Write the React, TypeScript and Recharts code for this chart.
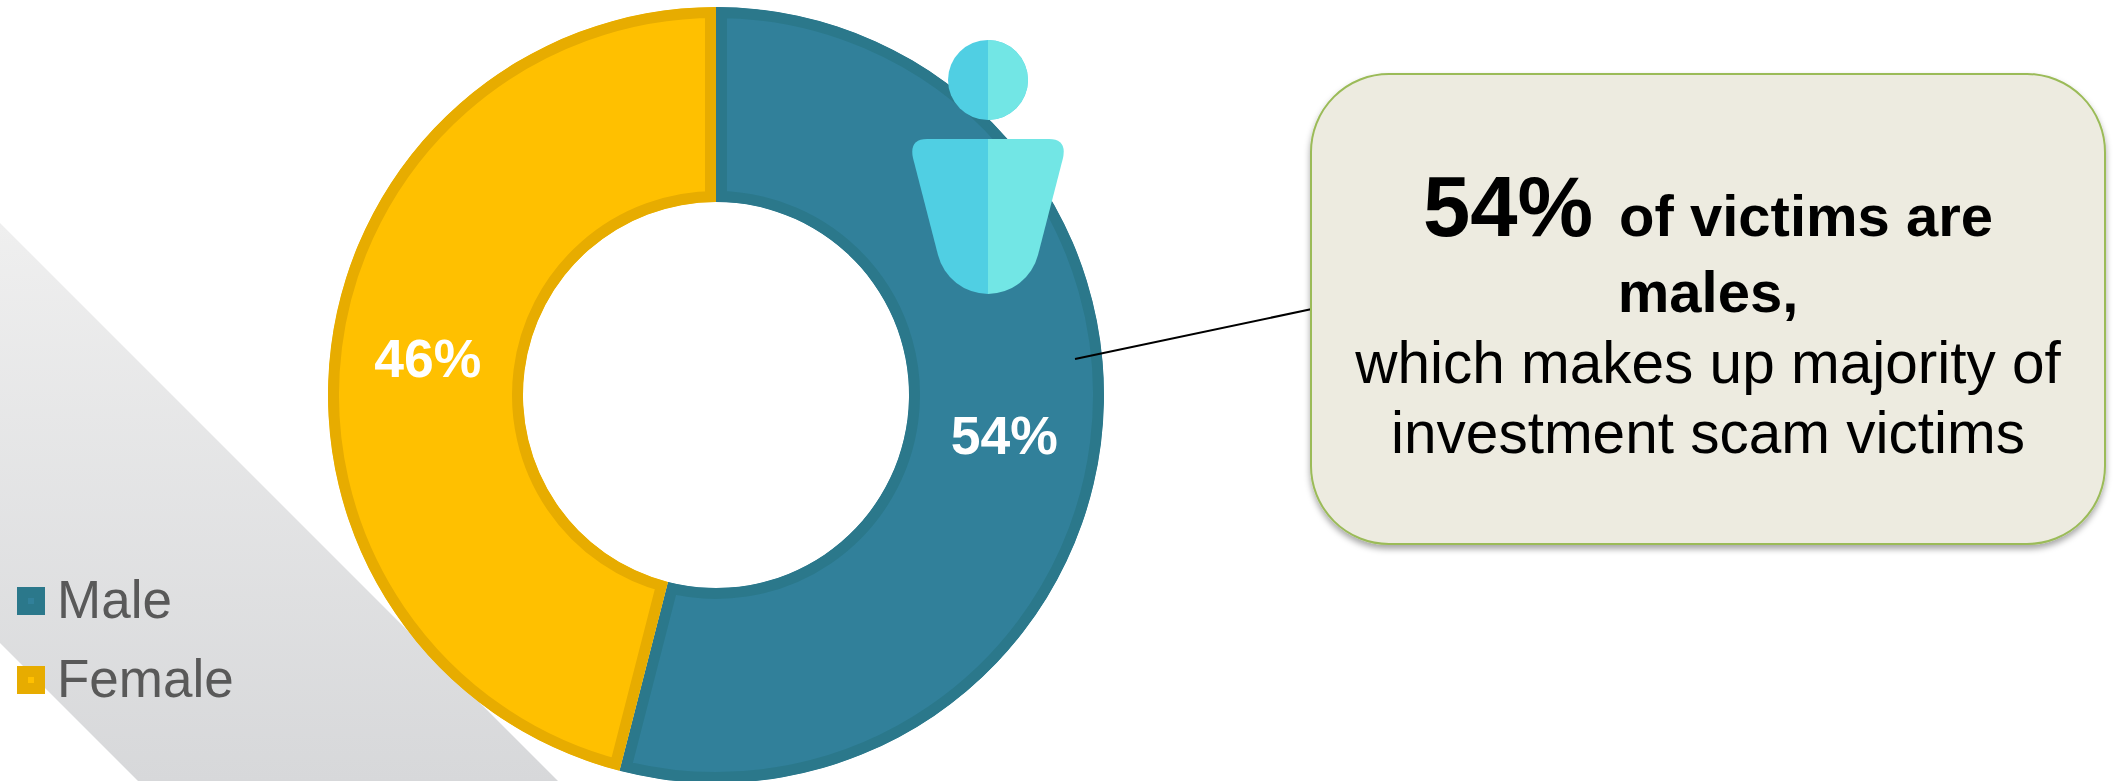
import React from 'react';
import { PieChart, Pie, Cell, Sector, Legend } from 'recharts';

const genders = ['Male', 'Female'];
const shares = [54, 46];
const fills = ['#31809a', '#ffc000'];
const edges = ['#2b788b', '#e7ac00'];
const labelNudge = [4, 0];

const headline = ['of victims are', 'males,'];
const detail = ['which makes up majority of', 'investment scam victims'];

const sliceData = genders.map((name, i) => ({ name, value: shares[i] }));

const FONT = '"Liberation Sans", Arial, sans-serif';
const RAD = Math.PI / 180;

// stroke is twice the border width and clipped to the slice, so the border sits inside it
function InsetSlice(props: any) {
  const id = `slice-clip-${props.index}`;
  const { cx, cy, innerRadius, outerRadius, startAngle, endAngle, fill } = props;
  const geo = { cx, cy, innerRadius, outerRadius, startAngle, endAngle };
  return (
    <g>
      <clipPath id={id}>
        <Sector {...geo} />
      </clipPath>
      <Sector {...geo} fill={fill} stroke={edges[props.index]} strokeWidth={22} clipPath={`url(#${id})`} />
    </g>
  );
}

function sliceLabel({ cx, cy, midAngle, innerRadius, outerRadius, value, index }: any) {
  const r = (innerRadius + outerRadius) / 2;
  return (
    <text
      x={cx + r * Math.cos(-midAngle * RAD)}
      y={cy + r * Math.sin(-midAngle * RAD) + labelNudge[index]}
      fill="#ffffff"
      fontSize={53.5}
      fontWeight="bold"
      fontFamily={FONT}
      textAnchor="middle"
      dominantBaseline="central"
    >
      {`${value}%`}
    </text>
  );
}

function GenderLegend() {
  return (
    <div style={{ fontFamily: FONT }}>
      {genders.map((name, i) => (
        <div key={name} style={{ position: 'relative', height: 79 }}>
          <div
            style={{
              position: 'absolute',
              left: 17,
              top: 12,
              width: 28,
              height: 28,
              background: edges[i],
            }}
          >
            <div style={{ position: 'absolute', left: 11, top: 11, width: 6, height: 6, background: fills[i] }} />
          </div>
          <span style={{ position: 'absolute', left: 57, top: -1, fontSize: 53, lineHeight: '52px', color: '#595959' }}>
            {name}
          </span>
        </div>
      ))}
    </div>
  );
}

export default function App() {
  return (
    <div style={{ position: 'absolute', left: 0, top: 0, width: 2121, height: 781, overflow: 'hidden', background: '#fff' }}>
      <svg width={2121} height={781} style={{ position: 'absolute', left: 0, top: 0 }}>
        <defs>
          <linearGradient id="band" x1="0" y1="0" x2="0" y2="1">
            <stop offset="0" stopColor="#efefef" />
            <stop offset="1" stopColor="#d7d8da" />
          </linearGradient>
        </defs>
        <polygon points="0,223 558,781 138,781 0,643" fill="url(#band)" />
      </svg>

      <div style={{ position: 'absolute', left: 0, top: 0 }}>
        <PieChart width={2121} height={781} margin={{ top: 0, right: 0, bottom: 0, left: 0 }}>
          <Pie
            data={sliceData}
            dataKey="value"
            nameKey="name"
            cx={716}
            cy={395}
            innerRadius={193}
            outerRadius={388}
            startAngle={90}
            endAngle={-270}
            stroke="none"
            shape={InsetSlice}
            label={sliceLabel}
            labelLine={false}
            isAnimationActive={false}
          >
            {sliceData.map((d, i) => (
              <Cell key={d.name} fill={fills[i]} />
            ))}
          </Pie>
          <Legend
            content={<GenderLegend />}
            layout="vertical"
            wrapperStyle={{ position: 'absolute', left: 0, top: 575, width: 300, height: 160 }}
          />
        </PieChart>
      </div>

      <svg width={2121} height={781} style={{ position: 'absolute', left: 0, top: 0 }}>
        <defs>
          <filter id="calloutShadow" x="-5%" y="-5%" width="110%" height="112%">
            <feDropShadow dx="0" dy="4" stdDeviation="3" floodColor="#000" floodOpacity="0.35" />
          </filter>
        </defs>

        {/* person icon */}
        <circle cx={988} cy={80} r={40} fill="#50cfe3" />
        <path d="M988 40 A40 40 0 0 1 988 120 Z" fill="#72e6e5" />
        <path d="M988 139 H927 Q909 139 913 158 L938 255 A52 52 0 0 0 988 294 Z" fill="#50cfe3" />
        <path d="M988 139 H1049 Q1067 139 1063 158 L1038 255 A52 52 0 0 1 988 294 Z" fill="#72e6e5" />

        {/* leader line and callout */}
        <line x1={1075} y1={359} x2={1312} y2={309} stroke="#000" strokeWidth={2} />
        <rect
          x={1311}
          y={74}
          width={794}
          height={470}
          rx={78}
          ry={78}
          fill="#edebe0"
          stroke="#9bbb59"
          strokeWidth={2}
          filter="url(#calloutShadow)"
        />
        <g fontFamily={FONT} textAnchor="middle" fill="#000">
          <text x={1708} y={236} fontWeight="bold" fontSize={58}>
            <tspan fontSize={85}>54%</tspan>
            <tspan dx={26}>{headline[0]}</tspan>
          </text>
          <text x={1708} y={312} fontWeight="bold" fontSize={58}>
            {headline[1]}
          </text>
          <text x={1708} y={383} fontSize={58.5}>
            {detail[0]}
          </text>
          <text x={1708} y={453} fontSize={58.5}>
            {detail[1]}
          </text>
        </g>
      </svg>
    </div>
  );
}
